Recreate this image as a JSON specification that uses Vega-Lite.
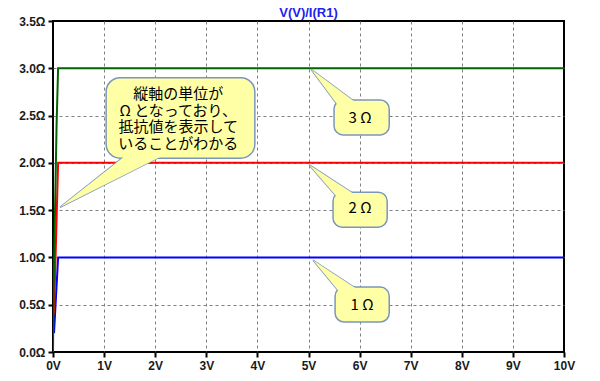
{
  "$schema": "https://vega.github.io/schema/vega-lite/v6.json",
  "width": 511,
  "height": 331,
  "autosize": {"type": "none"},
  "padding": {"left": 53, "top": 21, "right": 36, "bottom": 29},
  "background": "white",
  "title": {"text": "V(V)/I(R1)", "color": "#2222ee", "font": "Liberation Sans", "fontSize": 13, "fontWeight": "bold", "offset": -5, "anchor": "middle"},
  "config": {"view": {"stroke": "black", "strokeWidth": 2}},
  "datasets": {
    "curves": [
      {"s": "1", "x": 0.02, "y": 0.2}, {"s": "1", "x": 0.04, "y": 0.4}, {"s": "1", "x": 0.06, "y": 0.6}, {"s": "1", "x": 0.08, "y": 0.8}, {"s": "1", "x": 0.1, "y": 1.0}, {"s": "1", "x": 10, "y": 1.0},
      {"s": "2", "x": 0.02, "y": 0.4}, {"s": "2", "x": 0.04, "y": 0.8}, {"s": "2", "x": 0.06, "y": 1.2}, {"s": "2", "x": 0.08, "y": 1.6}, {"s": "2", "x": 0.1, "y": 2.0}, {"s": "2", "x": 10, "y": 2.0},
      {"s": "3", "x": 0.0, "y": 0.0}, {"s": "3", "x": 0.01, "y": 0.6}, {"s": "3", "x": 0.03, "y": 1.2}, {"s": "3", "x": 0.05, "y": 1.8}, {"s": "3", "x": 0.07, "y": 2.4}, {"s": "3", "x": 0.1, "y": 3.0}, {"s": "3", "x": 10, "y": 3.0}
    ],
    "tails": [
      {"g": "m", "k": 0, "x": 1.47, "y": 2.1}, {"g": "m", "k": 1, "x": 0.137, "y": 1.53}, {"g": "m", "k": 2, "x": 2.23, "y": 2.1}, {"g": "m", "k": 3, "x": 1.47, "y": 2.1},
      {"g": "a", "k": 0, "x": 5.56, "y": 2.62}, {"g": "a", "k": 1, "x": 5.05, "y": 2.99}, {"g": "a", "k": 2, "x": 5.97, "y": 2.62}, {"g": "a", "k": 3, "x": 5.56, "y": 2.62},
      {"g": "b", "k": 0, "x": 5.54, "y": 1.65}, {"g": "b", "k": 1, "x": 5.01, "y": 1.98}, {"g": "b", "k": 2, "x": 5.95, "y": 1.65}, {"g": "b", "k": 3, "x": 5.54, "y": 1.65},
      {"g": "c", "k": 0, "x": 5.58, "y": 0.65}, {"g": "c", "k": 1, "x": 5.09, "y": 0.97}, {"g": "c", "k": 2, "x": 5.99, "y": 0.65}, {"g": "c", "k": 3, "x": 5.58, "y": 0.65}
    ],
    "bubbles": [
      {"g": "m", "x": 1.04, "x2": 3.95, "y": 2.05, "y2": 2.9},
      {"g": "a", "x": 5.5, "x2": 6.58, "y": 2.295, "y2": 2.665},
      {"g": "b", "x": 5.48, "x2": 6.54, "y": 1.32, "y2": 1.69},
      {"g": "c", "x": 5.52, "x2": 6.58, "y": 0.317, "y2": 0.687}
    ],
    "labels": [
      {"x": 2.45, "y": 2.728, "t": ["縦軸の単位が", "Ω となっており、", "抵抗値を表示して", "いることがわかる"]},
      {"x": 6.01, "y": 2.475, "t": ["3 Ω"]},
      {"x": 6.01, "y": 1.52, "t": ["2 Ω"]},
      {"x": 6.05, "y": 0.5, "t": ["1 Ω"]}
    ]
  },
  "encoding": {
    "x": {
      "field": "x", "type": "quantitative",
      "scale": {"domain": [0, 10], "nice": false, "zero": false},
      "axis": {
        "values": [0, 1, 2, 3, 4, 5, 6, 7, 8, 9, 10],
        "labelExpr": "datum.value + 'V'",
        "title": null,
        "domain": false,
        "grid": true,
        "gridColor": "#808080",
        "gridDash": [3, 3],
        "gridWidth": 1,
        "gridOpacity": {"condition": {"test": "datum.value == 0 || datum.value == 10", "value": 0}, "value": 1},
        "ticks": true, "tickColor": "black", "tickWidth": 2, "tickSize": 5,
        "labelFont": "Liberation Sans", "labelFontWeight": "bold", "labelFontSize": 12, "labelColor": "#1a1a1a",
        "labelPadding": 3, "labelFlush": false
      }
    },
    "y": {
      "field": "y", "type": "quantitative",
      "scale": {"domain": [0, 3.5], "nice": false, "zero": false},
      "axis": {
        "values": [0, 0.5, 1, 1.5, 2, 2.5, 3, 3.5],
        "labelExpr": "format(datum.value, '.1f') + 'Ω'",
        "title": null,
        "domain": false,
        "grid": true,
        "gridColor": "#808080",
        "gridDash": [3, 3],
        "gridWidth": 1,
        "gridOpacity": {"condition": {"test": "datum.value == 0 || datum.value == 3.5", "value": 0}, "value": 1},
        "ticks": true, "tickColor": "black", "tickWidth": 2, "tickSize": 5,
        "labelFont": "Liberation Sans", "labelFontWeight": "bold", "labelFontSize": 12, "labelColor": "#1a1a1a",
        "labelPadding": 3, "labelFlush": false
      }
    }
  },
  "layer": [
    {
      "data": {"name": "curves"},
      "mark": {"type": "line", "strokeWidth": 2, "clip": true},
      "encoding": {
        "color": {"field": "s", "type": "nominal", "scale": {"domain": ["1", "2", "3"], "range": ["#0000ff", "#ff0000", "#006400"]}, "legend": null}
      }
    },
    {
      "data": {"name": "tails"},
      "mark": {"type": "line", "fill": "#ffffa6", "stroke": "#7b96bb", "strokeWidth": 1.5, "strokeJoin": "miter"},
      "encoding": {"detail": {"field": "g"}, "order": {"field": "k", "type": "quantitative"}}
    },
    {
      "data": {"name": "bubbles"},
      "transform": [{"filter": "datum.g == 'm'"}],
      "mark": {"type": "rect", "fill": "#ffffa6", "stroke": "#7b96bb", "strokeWidth": 1.5, "cornerRadius": 14},
      "encoding": {"x2": {"field": "x2"}, "y2": {"field": "y2"}}
    },
    {
      "data": {"name": "bubbles"},
      "transform": [{"filter": "datum.g != 'm'"}],
      "mark": {"type": "rect", "fill": "#ffffa6", "stroke": "#7b96bb", "strokeWidth": 1.5, "cornerRadius": 9},
      "encoding": {"x2": {"field": "x2"}, "y2": {"field": "y2"}}
    },
    {
      "data": {"name": "tails"},
      "mark": {"type": "line", "fill": "#ffffa6", "strokeOpacity": 0, "strokeWidth": 0},
      "encoding": {"detail": {"field": "g"}, "order": {"field": "k", "type": "quantitative"}}
    },
    {
      "data": {"name": "labels"},
      "mark": {"type": "text", "font": "Noto Sans CJK JP", "fontSize": 15, "lineHeight": 16.5, "color": "black", "align": "center", "baseline": "middle"},
      "encoding": {"text": {"field": "t"}}
    }
  ]
}
